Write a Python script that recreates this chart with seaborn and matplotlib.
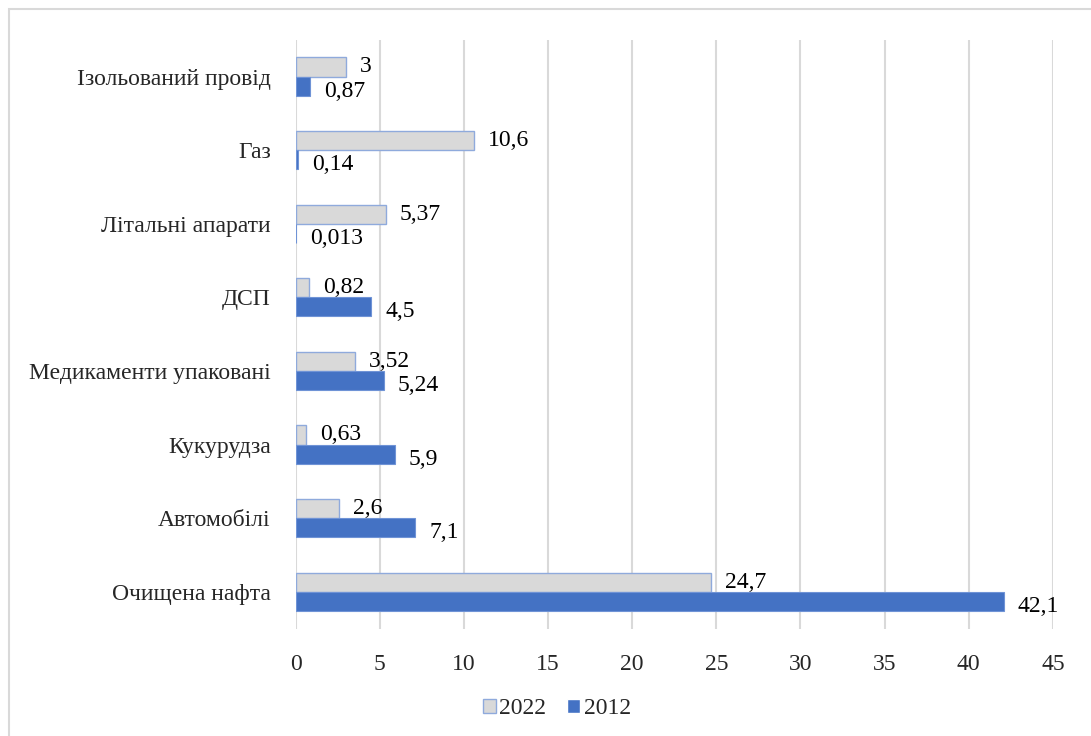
import numpy as np
import pandas as pd
import matplotlib
matplotlib.use("Agg")
import matplotlib.pyplot as plt
import seaborn as sns
from matplotlib.patches import Rectangle

# data
categories = ['Ізольований провід', 'Газ', 'Літальні апарати', 'ДСП',
              'Медикаменти упаковані', 'Кукурудза', 'Автомобілі', 'Очищена нафта']
values_2022 = [3, 10.6, 5.37, 0.82, 3.52, 0.63, 2.6, 24.7]
values_2012 = [0.87, 0.14, 0.013, 4.5, 5.24, 5.9, 7.1, 42.1]
labels_2022 = ['3', '10,6', '5,37', '0,82', '3,52', '0,63', '2,6', '24,7']
labels_2012 = ['0,87', '0,14', '0,013', '4,5', '5,24', '5,9', '7,1', '42,1']
years = ['2022', '2012']

data = pd.DataFrame({
    'Категорія': categories * 2,
    'Рік': ['2022'] * len(categories) + ['2012'] * len(categories),
    'Значення': values_2022 + values_2012,
})

sns.set_style('white')
plt.rcParams['font.family'] = ['Liberation Serif', 'DejaVu Serif']

fig = plt.figure(figsize=(10.91, 7.36), dpi=100)
ax = fig.add_axes([0.271, 0.146, 0.694, 0.800])

sns.barplot(data=data, x='Значення', y='Категорія', hue='Рік', hue_order=years,
            order=categories, orient='h', palette=['#D9D9D9', '#4472C4'],
            saturation=1, width=0.52, ax=ax, legend=True)

# bar edges like the original
for patch in ax.containers[0]:
    patch.set_edgecolor('#8FAADC')
    patch.set_linewidth(1)
for patch in ax.containers[1]:
    patch.set_edgecolor('#6F93D6')
    patch.set_linewidth(0.8)

# data labels (2012 labels sit a bit lower, as in the original)
for cont, labs, dy in zip(ax.containers, [labels_2022, labels_2012], [0, -3.6]):
    for patch, lab in zip(cont, labs):
        w = patch.get_width()
        yc = patch.get_y() + patch.get_height() / 2
        ax.annotate(lab, (w, yc), xytext=(10, dy), textcoords='offset points',
                    ha='left', va='center', fontsize=17, color='#000000')

ax.set_xlim(0, 45)
ax.set_xticks(np.arange(0, 46, 5))
ax.set_ylim(7.5, -0.5)
ax.grid(axis='x', color='#D9D9D9', linewidth=1.5)
ax.set_axisbelow(True)
for s in ax.spines.values():
    s.set_visible(False)
ax.tick_params(axis='x', length=0, pad=18, labelsize=17)
ax.tick_params(axis='y', length=0, pad=18, labelsize=17)
ax.set_xlabel('')
ax.set_ylabel('')

handles, lbls = ax.get_legend_handles_labels()
leg = ax.legend(handles, lbls, loc='center', bbox_to_anchor=(0.345, -0.136),
                ncol=2, frameon=False, fontsize=17, handlelength=0.55, handleheight=0.55,
                handletextpad=0.15, columnspacing=0.9)
leg.legend_handles[0].set_edgecolor('#8FAADC')
leg.legend_handles[0].set_linewidth(1)

# outer chart frame (only left and top edges are inside the picture)
fig.patches.append(Rectangle((0.0083, -0.1), 1.5, 1.0878, transform=fig.transFigure,
                             fill=False, edgecolor='#D9D9D9', linewidth=1.5))

fig.savefig('out.png', dpi=100)
